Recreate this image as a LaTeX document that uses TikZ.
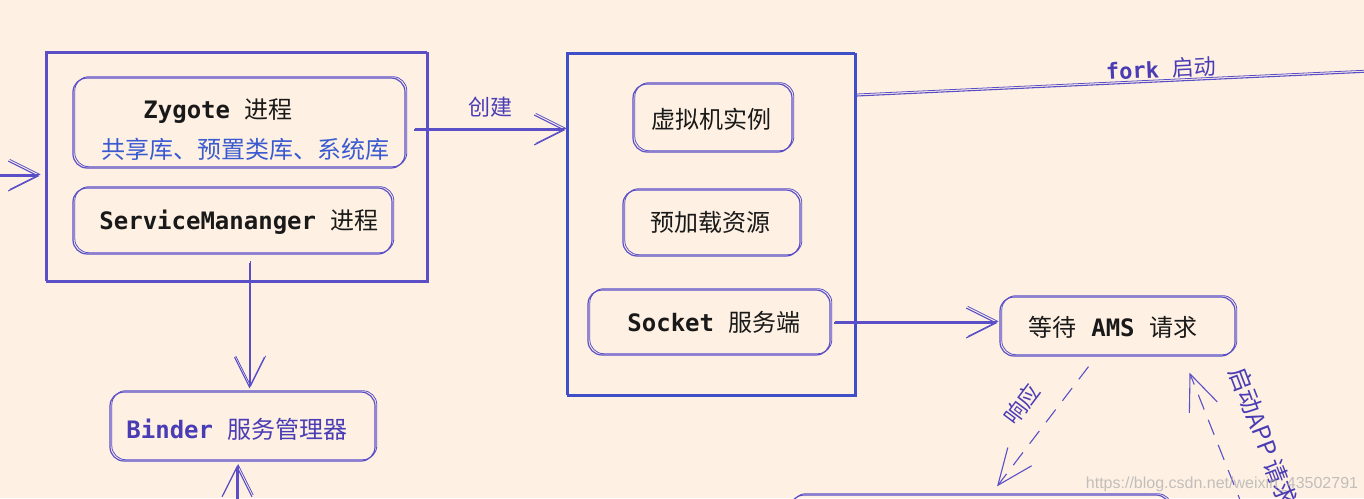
\documentclass[tikz,border=0pt]{standalone}
\usepackage{fontspec}
\setmainfont{Noto Sans CJK SC}
\setmonofont{DejaVu Sans Mono}
\newfontfamily\wmfont{Liberation Sans}
\usetikzlibrary{arrows.meta}
\definecolor{bg}{HTML}{FEF1E3}
\definecolor{lc}{HTML}{5B4FC8}
\definecolor{bc}{HTML}{3F4FC8}
\definecolor{tb}{HTML}{3A5AD0}
\definecolor{tp}{HTML}{4A3CB4}
\newcommand\mn[1]{{\ttfamily\bfseries #1}}
\tikzset{
  sk/.style={draw=lc, line width=1.2pt, rounded corners=14pt, inner sep=0pt,
    postaction={draw=lc, line width=0.8pt, transform canvas={xshift=1.8pt,yshift=1.3pt}}},
  sq/.style={draw=#1, line width=1.2pt, inner sep=0pt,
    postaction={draw=#1, line width=0.8pt, transform canvas={xshift=-2pt,yshift=1.5pt}}},
  txt/.style={font=\fontsize{24}{28}\selectfont, text=black!90, inner sep=0pt},
  lbl/.style={font=\fontsize{22}{26}\selectfont, text=tp, inner sep=0pt},
  arr/.style={draw=lc, line width=1.1pt, -{Straight Barb[length=30pt,width=30pt]},
    postaction={draw=lc, line width=0.8pt, transform canvas={xshift=1.2pt,yshift=1.6pt}}},
  darr/.style={draw=lc, line width=1.1pt, dash pattern=on 16pt off 11pt,
    -{Straight Barb[length=36pt,width=30pt]}},
}
\begin{document}
\begin{tikzpicture}[x=1pt,y=-1pt]
\fill[bg] (0,0) rectangle (1364,498);
\useasboundingbox (0,0) rectangle (1364,498);
\clip (0,0) rectangle (1364,498);

% outer boxes
\node[sq=lc, minimum width=381pt, minimum height=229pt] (box1) at (237.5,167.5) {};
\node[sq=bc, minimum width=288pt, minimum height=342pt] (box2) at (712,225) {};

% inner boxes
\node[sk, minimum width=332pt, minimum height=90pt] (zyg) at (239,123) {};
\node[sk, minimum width=319pt, minimum height=66pt] (sm) at (232.5,221) {};
\node[sk, minimum width=265pt, minimum height=69pt] (binder) at (242.5,426.5) {};
\node[sk, minimum width=159pt, minimum height=68pt] (vm) at (712.5,118) {};
\node[sk, minimum width=177pt, minimum height=66pt] (pre) at (711.5,223) {};
\node[sk, minimum width=242pt, minimum height=65pt] (sock) at (709,322.5) {};
\node[sk, minimum width=235pt, minimum height=59pt] (ams) at (1117.5,326.5) {};
\node[sk, minimum width=380pt, minimum height=70pt] (bot) at (980,530) {};

% texts
\node[txt] (tzyg) at (218,111) {\mn{Zygote }进程};
\node[txt, text=tb] (tlib) at (245,149) {共享库、预置类库、系统库};
\node[txt] (tsm) at (239,222) {\mn{ServiceMananger }进程};
\node[txt, text=tp] (tbinder) at (237,429) {\mn{Binder }服务管理器};
\node[txt] (tvm) at (711,119) {虚拟机实例};
\node[txt] (tpre) at (710,222) {预加载资源};
\node[txt] (tsock) at (714,322) {\mn{Socket }服务端};
\node[txt] (tams) at (1113,327) {等待\mn{ AMS }请求};

% connectors
\coordinate (leftin) at (-10,176);
\coordinate (forkend) at (1370,72);
\coordinate (binderin) at (237,515);
\coordinate (appin) at (1244,510);

\draw[arr] (leftin) -- ([shift={(-7,8.5)}]box1.west);
\draw[arr] ([shift={(8,7)}]zyg.east) -- ([shift={(-2,-95)}]box2.west);
\draw[arr] ([shift={(12,-20)}]box1.south) -- ([shift={(7,-3)}]binder.north);
\draw[arr] (binderin) -- ([shift={(-5.5,4)}]binder.south);
\draw[arr] ([shift={(3,0.5)}]sock.east) -- ([shift={(-2,-3.5)}]ams.west);
\draw[draw=lc, line width=1.1pt, postaction={draw=lc, line width=0.8pt, transform canvas={yshift=2pt}}]
  ([shift={(0,-129)}]box2.east) -- (forkend);
\draw[darr] ([shift={(-29,10)}]ams.south) -- ([shift={(17,-8)}]bot.north);
\draw[darr] (appin) -- ([shift={(72,16)}]ams.south);

% labels
\node[lbl] (lcreate) at (490,107) {创建};
\node[lbl, rotate=2.7] (lfork) at (1161,69) {\mn{fork }启动};
\node[lbl, rotate=53] (lresp) at (1022,404) {响应};
\node[lbl, font=\fontsize{24}{28}\selectfont, rotate=-69, anchor=west] (lapp) at (1237,368) {启动APP 请求};

% watermark
\node[font=\wmfont\fontsize{16}{20}\selectfont, text=black!30, inner sep=0pt, opacity=0.8] (wm) at (1222,484) {https://blog.csdn.net/weixin\_43502791};
\end{tikzpicture}
\end{document}
